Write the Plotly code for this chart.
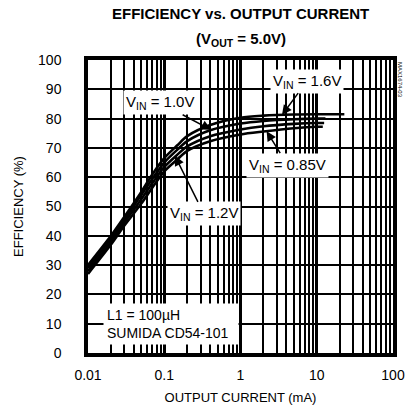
import math
import plotly.graph_objects as go

# ---- data ----
cur_16 = [0.01, 0.02, 0.03, 0.05, 0.07, 0.1, 0.15, 0.2, 0.4, 1, 2, 5, 10, 23]
eff_16 = [30, 40, 46.5, 55, 61, 66.5, 71, 74, 77.8, 80.3, 81, 81.4, 81.5, 81.5]

cur_10 = [0.01, 0.02, 0.03, 0.05, 0.07, 0.1, 0.15, 0.2, 0.4, 1, 2, 5, 10, 13]
eff_10 = [29, 39, 45.5, 54, 59.5, 65, 69.5, 72.3, 76, 78.3, 79.2, 79.8, 80, 80]

cur_12 = [0.01, 0.02, 0.03, 0.05, 0.07, 0.1, 0.15, 0.2, 0.4, 1, 2, 5, 10, 12.5]
eff_12 = [28, 38, 44.5, 52.5, 58, 63.5, 67.8, 70.5, 74, 76.3, 77.4, 78.2, 78.5, 78.5]

cur_085 = [0.01, 0.02, 0.03, 0.05, 0.07, 0.1, 0.15, 0.2, 0.4, 1, 2, 5, 10, 12]
eff_085 = [27, 37, 43.5, 51, 56.5, 62, 66.2, 69, 72.3, 74.6, 75.6, 76.7, 77.2, 77.2]

x_tickvals = [0.01, 0.1, 1, 10, 100]
x_ticktext = ["0.01", "0.1", "1", "10", "100"]
y_tickvals = [0, 10, 20, 30, 40, 50, 60, 70, 80, 90, 100]

FONT = "Liberation Sans Narrow, Arial Narrow, Liberation Sans, Arial, sans-serif"

fig = go.Figure()
for cur, eff, name in [(cur_16, eff_16, "1.6V"), (cur_10, eff_10, "1.0V"),
                       (cur_12, eff_12, "1.2V"), (cur_085, eff_085, "0.85V")]:
    fig.add_trace(go.Scatter(x=cur, y=eff, mode="lines", name=name,
                             line=dict(color="black", width=2.6, shape="spline", smoothing=0.8),
                             showlegend=False, hoverinfo="skip"))

def label(x, y, text, ax, ay):
    fig.add_annotation(x=math.log10(x), y=y, xref="x", yref="y", text=text, ax=ax, ay=ay,
                       showarrow=True, arrowhead=2, arrowsize=1.3, arrowwidth=1.5,
                       arrowcolor="black", bgcolor="white", borderpad=2,
                       font=dict(family=FONT, size=15, color="black"))

label(0.41, 76.2, "V<sub>IN</sub> = 1.0V", -51, -27)
label(3.5, 81.2, "V<sub>IN</sub> = 1.6V", 25, -34)
label(2.2, 75.7, "V<sub>IN</sub> = 0.85V", 21, 34)
label(0.138, 67.3, "V<sub>IN</sub> = 1.2V", 29, 58)

fig.add_annotation(x=math.log10(0.0155), y=2.6, xref="x", yref="y", xanchor="left", yanchor="bottom",
                   text="L1 = 100µH<br>SUMIDA CD54-101", align="left", showarrow=False,
                   bgcolor="white", borderpad=3, width=128,
                   font=dict(family=FONT, size=14, color="black"))

# title lines
fig.add_annotation(x=0.5, y=1, xref="paper", yref="paper", yanchor="middle", yshift=47,
                   text="<b>EFFICIENCY vs. OUTPUT CURRENT</b>", showarrow=False,
                   font=dict(family=FONT, size=15, color="black"))
fig.add_annotation(x=0.5, y=1, xref="paper", yref="paper", yanchor="middle", yshift=21,
                   text="<b>(V<sub>OUT</sub> = 5.0V)</b>", showarrow=False,
                   font=dict(family=FONT, size=15, color="black"))

fig.add_annotation(x=1.0, y=1.0, xref="paper", yref="paper", xanchor="left", yanchor="top",
                   xshift=2, text="MAX1674-03", textangle=90, showarrow=False,
                   font=dict(family=FONT, size=6, color="black"))

fig.update_layout(
    width=406, height=407,
    margin=dict(l=88, r=13, t=60, b=54),
    paper_bgcolor="white", plot_bgcolor="white",
    font=dict(family=FONT, size=13, color="black"),
)
fig.update_xaxes(type="log", range=[-2, 2], tickvals=x_tickvals, ticktext=x_ticktext,
                 showgrid=True, gridcolor="black", gridwidth=2.5,
                 minor=dict(showgrid=True, gridcolor="black", gridwidth=1.5, dtick="D1"),
                 showline=True, linecolor="black", linewidth=3.5, mirror=True,
                 ticks="", ticklabelstandoff=6, automargin=False,
                 title=dict(text="OUTPUT CURRENT (mA)", standoff=12,
                            font=dict(family=FONT, size=13)),
                 tickfont=dict(family=FONT, size=14), zeroline=False)
fig.update_yaxes(range=[0, 100], tickvals=y_tickvals,
                 showgrid=True, gridcolor="black", gridwidth=2,
                 showline=True, linecolor="black", linewidth=3.5, mirror=True,
                 ticks="", ticklabelstandoff=20, automargin=False,
                 title=dict(text="EFFICIENCY (%)", standoff=13,
                            font=dict(family=FONT, size=13)),
                 tickfont=dict(family=FONT, size=14), zeroline=False)

fig.write_html("out.html", config={"displayModeBar": False},
               post_script="document.body.style.margin='0';document.body.style.overflow='hidden';")
